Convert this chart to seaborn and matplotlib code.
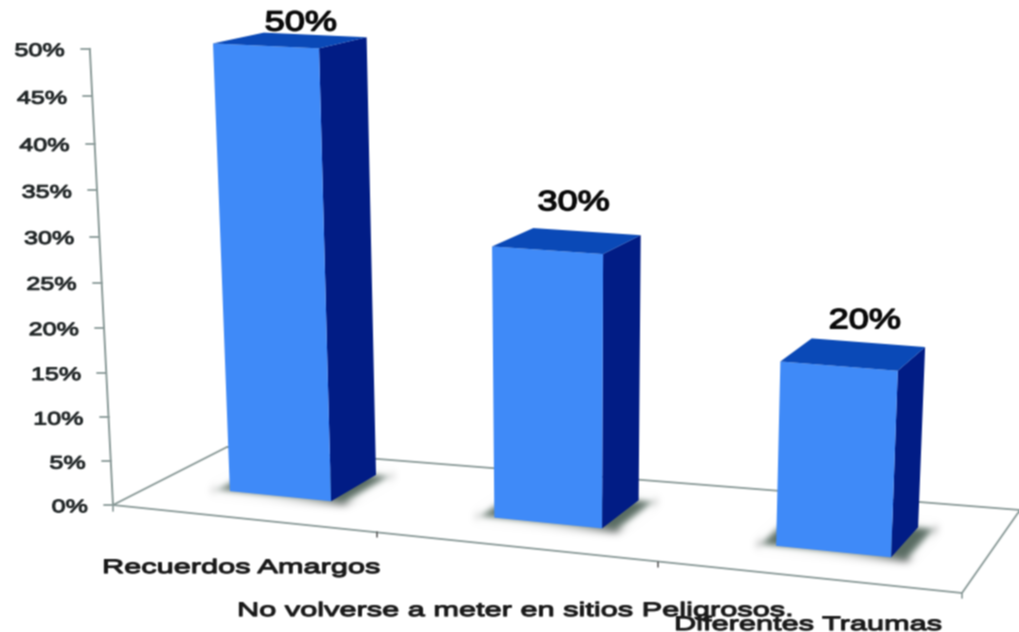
import numpy as np
import pandas as pd
import matplotlib
matplotlib.use("Agg")
import matplotlib.pyplot as plt
from matplotlib.colors import to_rgba
from matplotlib.patches import Polygon
from matplotlib.text import Text
from matplotlib.textpath import TextPath
from matplotlib.transforms import Affine2D, Transform
import seaborn as sns

sns.set_style("white")
plt.rcParams['font.family'] = ['Liberation Sans', 'DejaVu Sans']

# data
categories = ["Recuerdos Amargos", "No volverse a meter en sitios Peligrosos.", "Diferentes Traumas"]
values = [50, 30, 20]
value_labels = ["50%", "30%", "20%"]
y_ticks = [0, 5, 10, 15, 20, 25, 30, 35, 40, 45, 50]

BAR_WIDTH = 0.39

# where the bar corners sit in the picture, used to fit the camera
# (bar, left/right, front/back, top?) -> pixel
calib = [
    (0, -1, 0, 1, 212, 44), (0, 1, 0, 1, 320, 48), (0, 1, 1, 1, 366, 37), (0, -1, 1, 1, 265, 32),
    (0, -1, 0, 0, 229, 491), (0, 1, 0, 0, 333, 502), (0, 1, 1, 0, 376, 475),
    (1, -1, 0, 1, 492, 247), (1, 1, 0, 1, 604, 253), (1, 1, 1, 1, 640, 236), (1, -1, 1, 1, 533, 228),
    (1, -1, 0, 0, 493, 518), (1, 1, 0, 0, 603, 528), (1, 1, 1, 0, 638, 499),
    (2, -1, 0, 1, 779, 362), (2, 1, 0, 1, 898, 370), (2, 1, 1, 1, 925, 348), (2, -1, 1, 1, 812, 339),
    (2, -1, 0, 0, 775, 546), (2, 1, 0, 0, 892, 557), (2, 1, 1, 0, 919, 527),
]

rows = []
for bar, side, depth, top, px, py in calib:
    w = [bar + side * BAR_WIDTH / 2, depth, values[bar] * top, 1]
    rows.append(list(w) + [0, 0, 0, 0] + [-px * c for c in w])
    rows.append([0, 0, 0, 0] + list(w) + [-py * c for c in w])
CAMERA = np.linalg.svd(np.array(rows, dtype=float))[2][-1].reshape(3, 4)


def project(u, d, z):
    h = CAMERA @ np.array([u, d, z, 1.0])
    return h[0] / h[2], h[1] / h[2]


class FrontFace(Transform):
    # category/value plane at the front of the bars -> picture
    input_dims = 2
    output_dims = 2

    def transform_non_affine(self, values):
        return np.array([project(u, 0, z) for u, z in values])


class WideText(Text):
    # the original text is stretched sideways, plain Text cannot do that
    def __init__(self, *args, xscale=1.0, stroke=0.3, **kwargs):
        super().__init__(*args, **kwargs)
        self.xscale = xscale
        self.stroke = stroke

    def draw(self, renderer):
        fp = self.get_fontproperties()
        size = fp.get_size_in_points() * self.get_figure().dpi / 72
        path = TextPath((0, 0), self.get_text(), size=size, prop=fp)
        ext = path.get_extents()
        x, y = self.get_transform().transform(self.get_position())
        if self.get_ha() == "right":
            x -= ext.x1 * self.xscale
        elif self.get_ha() == "center":
            x -= (ext.x0 + ext.x1) / 2 * self.xscale
        if self.get_va() == "center":
            y -= (ext.y0 + ext.y1) / 2
        gc = renderer.new_gc()
        gc.set_foreground(self.get_color())
        gc.set_linewidth(self.stroke)
        renderer.draw_path(gc, path, Affine2D().scale(self.xscale, 1).translate(x, y), to_rgba(self.get_color()))
        gc.restore()


def soft_edge(img, dpi):
    # gaussian blur for the floor shadows
    pad = 14
    out = np.pad(img, ((pad, pad), (pad, pad), (0, 0)))
    k = np.exp(-np.arange(-12, 13) ** 2 / (2 * 4.0 ** 2))
    k /= k.sum()
    for axis in (0, 1):
        out = np.apply_along_axis(lambda m: np.convolve(m, k, mode="same"), axis, out)
    return out, -pad, -pad


fig = plt.figure(figsize=(10.2, 6.32), dpi=100)
ax = fig.add_axes([0, 0, 1, 1])

df = pd.DataFrame({"cat": categories, "val": values})
sns.barplot(data=df, x="cat", y="val", color="#3F8AF8", saturation=1, width=BAR_WIDTH, ax=ax, zorder=5)
bars = list(ax.patches)

ax.set_xlim(0, 1020)
ax.set_ylim(632, 0)
ax.axis("off")

# floor and axis
line_c = "#8A9A98"
origin = (113, 505)
floor_x = [227, 113, 962, 1020]
floor_y = [447, 505, 593, 510]
ax.plot(floor_x, floor_y, color=line_c, lw=1.3, zorder=1)
ax.plot([227, 1020], [447, 510], color=line_c, lw=1.3, zorder=1)
ax.plot([962, 962], [593, 598], color=line_c, lw=1.2, zorder=1)
ax.plot([113, 113], [505, 511], color=line_c, lw=1.2, zorder=1)

# axis corner on the floor in camera terms, so the ticks get the same perspective
A = np.array([[CAMERA[r, c] - origin[r] * CAMERA[2, c] for c in range(2)] for r in range(2)])
b = np.array([origin[r] * CAMERA[2, 3] - CAMERA[r, 3] for r in range(2)])
axis_u, axis_d = np.linalg.solve(A, b)

axis_pts = [project(axis_u, axis_d, t) for t in y_ticks]
ax.plot([p[0] for p in axis_pts], [p[1] for p in axis_pts], color=line_c, lw=1.4, zorder=1)
for t, (tx, ty) in zip(y_ticks, axis_pts):
    ax.plot([tx - 9, tx], [ty, ty], color=line_c, lw=1.3, zorder=1)
    ax.add_artist(WideText(tx - 26, ty + 1, f"{t}%", ha="right", va="center", fontsize=13,
                           color="#222728", xscale=1.39, stroke=0.8))

for x, y in [(377, 532), (658, 562)]:
    ax.plot([x, x], [y, y + 5], color="#555555", lw=1.1, zorder=1)

# bars: front from seaborn, then side, top and soft shadow on the floor
for bar in bars:
    x0 = bar.get_x()
    x1 = x0 + bar.get_width()
    z = bar.get_height()

    bar.set_transform(FrontFace() + ax.transData)
    bar.set_clip_on(False)
    bar.set_edgecolor("none")

    shadow = [project(x0 - 0.06, -0.05, 0), project(x1 + 0.06, -0.05, 0),
              project(x1 + 0.06, 1.05, 0), project(x0 - 0.06, 1.05, 0)]
    patch = Polygon(shadow, closed=True, fc="#4F6359", ec="none", alpha=0.95, zorder=2)
    patch.set_agg_filter(soft_edge)
    ax.add_patch(patch)

    side = [project(x1, 0, 0), project(x1, 1, 0), project(x1, 1, z), project(x1, 0, z)]
    ax.add_patch(Polygon(side, closed=True, fc="#011C85", ec="none", zorder=4))
    top = [project(x0, 0, z), project(x1, 0, z), project(x1, 1, z), project(x0, 1, z)]
    ax.add_patch(Polygon(top, closed=True, fc="#0A49B7", ec="none", zorder=6))

# value labels over the bars
label_shift = [(-14, -14), (-13, -31), (-3, -24)]
for i, bar in enumerate(bars):
    cx = bar.get_x() + bar.get_width() / 2
    px, py = project(cx, 1, bar.get_height())
    ax.add_artist(WideText(px + label_shift[i][0], py + label_shift[i][1], value_labels[i], ha="center",
                           va="center", fontsize=20, color="#0A0A0A", xscale=1.3, stroke=1.1))

# category labels, the last one runs off the bottom like in the original
label_pos = [(102, 573), (237, 616), (674, 630)]
for name, (lx, ly) in zip(categories, label_pos):
    ax.add_artist(WideText(lx, ly, name, ha="left", va="baseline", fontsize=14,
                           color="#1A1A1A", xscale=1.58, stroke=0.9))

fig.savefig("out.png", dpi=100)

# the original is a soft, resampled picture: same slight softness here
img = plt.imread("out.png")[:, :, :3]
k = np.array([1, 2, 1]) / 4
for axis in (0, 1):
    img = np.apply_along_axis(lambda m: np.convolve(np.pad(m, 1, mode="edge"), k, mode="valid"), axis, img)
plt.imsave("out.png", np.clip(img, 0, 1))
